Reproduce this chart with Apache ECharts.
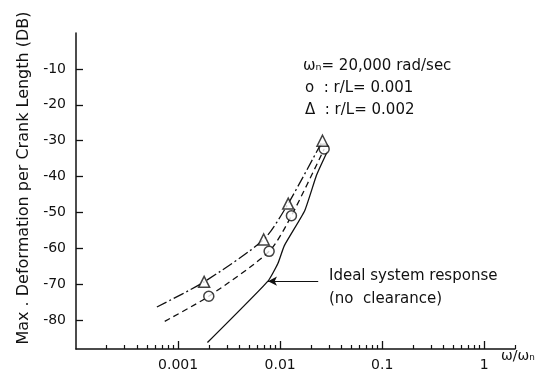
<!DOCTYPE html>
<html><head><meta charset="utf-8">
<script src="https://cdn.jsdelivr.net/npm/echarts@6/dist/echarts.min.js"></script>
<style>html,body{margin:0;padding:0;background:#fff}#c{width:543px;height:384px}</style>
</head><body><div id="c"></div>
<script>
// Data
const circleR001   = [[0.002,-73.3],[0.0078,-60.8],[0.0129,-50.9],[0.027,-32.3]];
const triangleR002 = [[0.0018,-69.3],[0.0069,-57.5],[0.012,-47.5],[0.026,-30]];
const curveR001    = [[0.00074,-80.3],[0.002,-73.3],[0.0078,-60.8],[0.0129,-50.9],[0.027,-32.3]];
const curveR002    = [[0.00062,-76.3],[0.0018,-69.3],[0.0069,-57.5],[0.012,-47.5],[0.026,-30]];
const idealCurve   = [[0.00194,-86.2],[0.0076,-69.1],[0.0095,-64.2],[0.011,-59.2],[0.0174,-49.5],[0.0228,-39.5],[0.029,-33]];
const arrowFrom = [0.0236,-69.1];
const arrowTo   = [0.0076,-69.1];
const yTicks = [-10,-20,-30,-40,-50,-60,-70,-80];
const xMajorTicks = [0.001,0.01,0.1,1];
const xLabels = {'0.001':'0.001','0.01':'0.01','0.1':'0.1','1':'1'};
const decades = [0.0001,0.001,0.01,0.1,1];
const minorSteps = [2,3,4,5,6,7,8,9];

const xMinorTicks = [];
decades.forEach(d => minorSteps.forEach(m => { const v = +(d*m).toPrecision(3); if (v <= 2) xMinorTicks.push(v); }));

const ink = '#111';
const font = 'DejaVu Sans';
const gridBox = {left: 76, right: 28, top: 33, bottom: 35};
const chart = echarts.init(document.getElementById('c'));
chart.setOption({
  animation: false,
  backgroundColor: '#fff',
  grid: [Object.assign({}, gridBox), Object.assign({}, gridBox)],
  xAxis: [{
    gridIndex: 0, type: 'log', logBase: 10, min: 0.0001, max: 2, position: 'bottom',
    axisLine: {show: true, onZero: false, lineStyle: {color: ink, width: 1.5}},
    axisTick: {show: true, inside: true, length: 4, customValues: xMinorTicks, lineStyle: {color: ink, width: 1.2}},
    axisLabel: {customValues: xMajorTicks, color: ink, fontFamily: font, fontSize: 14, margin: 9,
      formatter: v => xLabels[String(+(+v).toPrecision(3))] || ''},
    splitLine: {show: false},
    name: 'ω/ωₙ', nameLocation: 'end', nameGap: -14,
    nameTextStyle: {color: ink, fontFamily: font, fontSize: 14, verticalAlign: 'top'}
  }, {
    gridIndex: 1, type: 'log', logBase: 10, min: 0.0001, max: 2, position: 'bottom',
    axisLine: {show: false, onZero: false},
    axisTick: {show: true, inside: true, length: 8, customValues: xMajorTicks, lineStyle: {color: ink, width: 1.3}},
    axisLabel: {show: false}, splitLine: {show: false}
  }],
  yAxis: [{
    gridIndex: 0, type: 'value', min: -88, max: 0,
    axisLine: {show: true, onZero: false, lineStyle: {color: ink, width: 1.5}},
    axisTick: {show: true, inside: true, length: 7, customValues: yTicks, lineStyle: {color: ink, width: 1.3}},
    axisLabel: {customValues: yTicks, color: ink, fontFamily: font, fontSize: 14, margin: 10},
    splitLine: {show: false},
    name: 'Max . Deformation per Crank Length (DB)', nameLocation: 'middle', nameRotate: 90, nameGap: 31,
    nameTextStyle: {color: ink, fontFamily: font, fontSize: 16, padding: [0,0,0,26]}
  }, {
    gridIndex: 1, type: 'value', min: -88, max: 0, show: false
  }],
  series: [
    {type: 'line', data: idealCurve, smooth: 0.15, symbol: 'none', lineStyle: {color: ink, width: 1.3},
      markLine: {silent: true, symbol: ['none','arrow'], symbolSize: [7,9], label: {show: false},
        lineStyle: {color: ink, width: 1.2, type: 'solid'},
        data: [[{coord: arrowFrom}, {coord: arrowTo}]]}},
    {type: 'line', data: curveR001, smooth: 0.25, symbol: 'none', lineStyle: {color: ink, width: 1.3, type: [6,4]}},
    {type: 'line', data: curveR002, smooth: 0.25, symbol: 'none', lineStyle: {color: ink, width: 1.3, type: [11,3,2,3]}},
    {type: 'scatter', data: circleR001, symbol: 'circle', symbolSize: 10, z: 5,
      itemStyle: {color: '#fff', borderColor: ink, borderWidth: 1.5}},
    {type: 'scatter', data: triangleR002, symbol: 'triangle', symbolSize: 11, z: 5,
      itemStyle: {color: '#fff', borderColor: ink, borderWidth: 1.5}}
  ],
  graphic: [
    {type: 'text', left: 303, top: 59, style: {text: 'ωₙ= 20,000 rad/sec', font: '15px "DejaVu Sans"', fill: ink}},
    {type: 'text', left: 305, top: 81, style: {text: 'o  : r/L= 0.001', font: '15px "DejaVu Sans"', fill: ink}},
    {type: 'text', left: 305, top: 103, style: {text: 'Δ  : r/L= 0.002', font: '15px "DejaVu Sans"', fill: ink}},
    {type: 'text', left: 329, top: 269, style: {text: 'Ideal system response', font: '15px "DejaVu Sans"', fill: ink}},
    {type: 'text', left: 329, top: 292, style: {text: '(no  clearance)', font: '15px "DejaVu Sans"', fill: ink}}
  ]
});
</script></body></html>
